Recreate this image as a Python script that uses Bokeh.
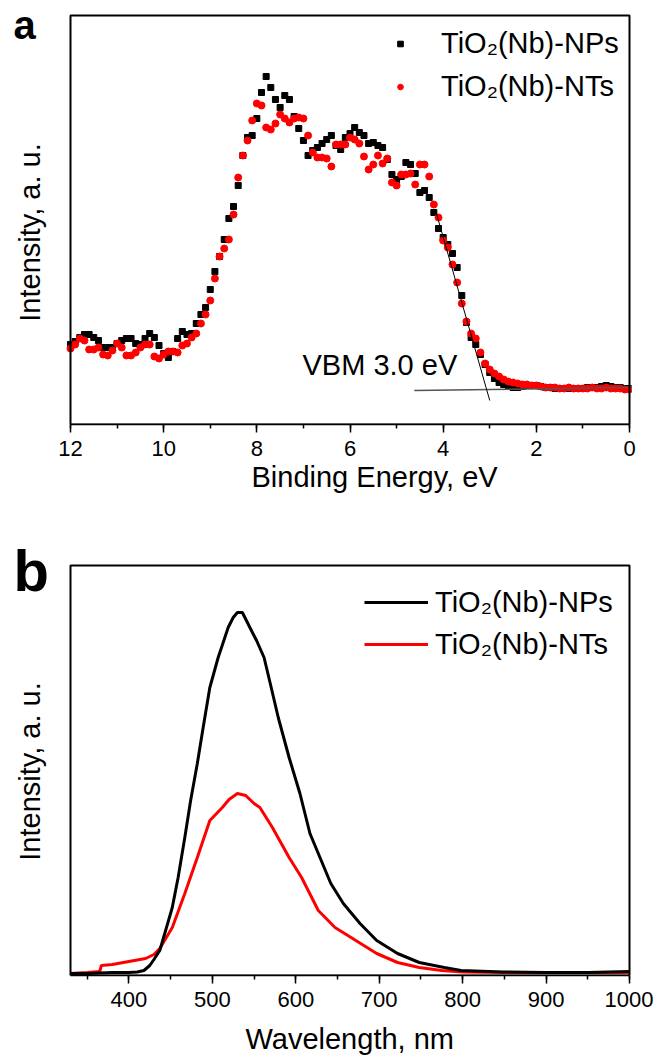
import math
from bokeh.plotting import figure
from bokeh.models import (Range1d, SingleIntervalTicker, Label, Legend, LegendItem,
                          BoxAnnotation, Title)
from bokeh.layouts import column
from bokeh.embed import file_html
from bokeh.resources import INLINE

FONT = "Liberation Sans"

# ---------------- Panel a: valence band XPS ----------------
energy = [12.0, 11.9, 11.8, 11.7, 11.6, 11.5, 11.4, 11.3, 11.2, 11.1,
          11.0, 10.9, 10.8, 10.7, 10.6, 10.5, 10.4, 10.3, 10.2, 10.1,
          10.0, 9.9, 9.8, 9.7, 9.6, 9.5, 9.4, 9.3, 9.2, 9.1,
          9.0, 8.9, 8.8, 8.7, 8.6, 8.5, 8.4, 8.3, 8.2, 8.1,
          8.0, 7.9, 7.8, 7.7, 7.6, 7.5, 7.4, 7.3, 7.2, 7.1,
          7.0, 6.9, 6.8, 6.7, 6.6, 6.5, 6.4, 6.3, 6.2, 6.1,
          6.0, 5.9, 5.8, 5.7, 5.6, 5.5, 5.4, 5.3, 5.2, 5.1,
          5.0, 4.9, 4.8, 4.7, 4.6, 4.5, 4.4, 4.3, 4.2, 4.1,
          4.0, 3.9, 3.8, 3.7, 3.6, 3.5, 3.4, 3.3, 3.2, 3.1,
          3.0, 2.9, 2.8, 2.7, 2.6, 2.5, 2.4, 2.3, 2.2, 2.1,
          2.0, 1.9, 1.8, 1.7, 1.6, 1.5, 1.4, 1.3, 1.2, 1.1,
          1.0, 0.9, 0.8, 0.7, 0.6, 0.5, 0.4, 0.3, 0.2, 0.1,
          0.0]

nps_xps = [80, 83, 87, 90, 90, 87, 84, 77, 77, 77,
           81, 84, 86, 86, 81, 80, 86, 91, 87, 79,
           71, 67, 73, 86, 93, 90, 91, 101, 110, 117,
           135, 153, 168, 185, 206, 218, 239, 269, 287, 289,
           306, 332, 348, 337, 325, 317, 329, 325, 308, 296,
           284, 269, 274, 277, 281, 285, 289, 279, 275, 287,
           291, 297, 292, 289, 281, 282, 279, 277, 265, 250,
           245, 248, 262, 260, 251, 232, 234, 227, 212, 196,
           187, 180, 171, 157, 129, 102, 87, 80, 70, 60,
           52, 46, 42, 40, 38, 37, 37, 38, 39, 39,
           39, 38, 37, 37, 36, 36, 36, 36, 36, 36,
           36, 37, 37, 37, 38, 39, 38, 37, 37, 36,
           36]

nts_xps = [76, 80, 86, 84, 75, 75, 77, 70, 69, 74,
           81, 77, 69, 69, 72, 77, 80, 80, 68, 66,
           70, 73, 73, 72, 79, 81, 87, 91, 101, 110,
           124, 146, 168, 176, 185, 210, 247, 269, 284, 304,
           321, 319, 297, 295, 301, 310, 306, 302, 306, 307,
           306, 289, 272, 267, 267, 266, 258, 280, 280, 280,
           287, 285, 281, 268, 255, 260, 269, 261, 266, 242,
           239, 250, 250, 251, 240, 260, 260, 248, 220, 207,
           184, 177, 160, 142, 121, 103, 91, 86, 72, 61,
           55, 51, 48, 45, 43, 42, 41, 40, 40, 39,
           39, 38, 37, 37, 37, 36, 36, 37, 36, 36,
           36, 36, 37, 36, 36, 37, 36, 36, 36, 35,
           35]

tangent_x = [4.15, 3.0]
tangent_y = [212, 24]
base_x = [4.62, 0.0]
base_y = [34, 37]

# ---------------- Panel b: photoluminescence ----------------
wl_nps = [330, 350, 380, 400, 410, 418, 425, 430, 437, 444, 452, 459, 467, 474,
          482, 489, 497, 507, 519, 525, 530, 536, 545, 553, 562, 570, 579, 592,
          605, 617, 627, 642, 657, 677, 697, 722, 748, 778, 798, 848, 900, 950, 1000]
pl_nps = [2, 2, 3, 3, 3.5, 5, 10, 16, 25, 45, 68, 98, 138, 175,
          212, 248, 288, 318, 348, 358, 363, 363, 348, 335, 318, 290, 258, 218,
          182, 142, 122, 92, 72, 52, 35, 22, 13, 8, 5, 3.5, 3, 3, 4]

wl_nts = [330, 350, 365, 367, 380, 400, 420, 430, 437, 452, 467, 482, 497, 512,
          520, 530, 540, 550, 557, 572, 592, 607, 627, 647, 672, 697, 722, 748,
          775, 800, 850, 900, 1000]
pl_nts = [2, 3, 4, 10, 11, 14, 17, 21, 27, 48, 82, 118, 155, 168,
          176, 182, 180, 172, 168, 148, 118, 98, 65, 48, 35, 22, 13, 8,
          5, 3.5, 3, 3, 3]

labels = ["TiO\u2082(Nb)-NPs", "TiO\u2082(Nb)-NTs"]

# ---------------- geometry (page pixels) ----------------
FRAME_L = 4          # left edge of the drawing frame
BOX_L, BOX_R = 70, 629
FRAME_R = 631
BOX_W = BOX_R - BOX_L

A_X0, A_X1 = 12.0, 0.0
B_X0, B_X1 = 330.0, 1000.0
a_ppu = BOX_W / (A_X0 - A_X1)
b_ppu = BOX_W / (B_X1 - B_X0)


def style_x(p, bounds):
    p.outline_line_color = None
    p.xgrid.visible = False
    p.ygrid.visible = False
    p.yaxis.visible = False
    p.background_fill_color = "white"
    ax = p.xaxis[0]
    ax.bounds = bounds
    ax.major_label_text_font = FONT
    ax.major_label_text_font_size = "22px"
    ax.major_label_text_color = "black"
    ax.major_label_standoff = 8
    ax.major_tick_out = 8
    ax.major_tick_in = 0
    ax.minor_tick_out = 4
    ax.minor_tick_in = 0
    ax.axis_line_width = 1.5
    ax.major_tick_line_width = 1.5
    ax.minor_tick_line_width = 1.5


def add_box(p, left, right, top):
    p.add_layout(BoxAnnotation(left=left, right=right, bottom=0, top=top,
                               fill_alpha=0, fill_color=None,
                               line_color="black", line_alpha=1.0, line_width=2))


# ---- figure a ----
a_top = 424
pa = figure(frame_width=FRAME_R - FRAME_L, frame_height=a_top, output_backend="svg",
            toolbar_location=None,
            x_range=Range1d(A_X0 + (BOX_L - FRAME_L) / a_ppu, A_X1 - (FRAME_R - BOX_R) / a_ppu),
            y_range=Range1d(0, a_top),
            min_border_left=FRAME_L, min_border_right=22, min_border_top=0, min_border_bottom=94)
pa.xaxis.ticker = SingleIntervalTicker(interval=2, num_minor_ticks=2)
style_x(pa, (A_X1, A_X0))
add_box(pa, A_X0, A_X1, 409)
pa.add_layout(Title(text="Binding Energy, eV", align="left", offset=247, standoff=0,
                    text_font=FONT, text_font_size="29px", text_font_style="normal",
                    text_color="black"), "below")

r_nps = pa.scatter(energy, nps_xps, marker="square", size=6, color="black")
r_nts = pa.scatter(energy, nts_xps, marker="circle", size=7, color="red")
pa.line(base_x, base_y, line_color="#555555", line_width=1.5)
pa.line(tangent_x, tangent_y, line_color="black", line_width=1)
pa.add_layout(Label(x=7.02, y=60, text="VBM 3.0 eV", text_font=FONT, text_font_size="29px",
                    text_color="black", text_baseline="alphabetic", text_align="left"))
pa.add_layout(Label(x=A_X0 + (BOX_L - 13) / a_ppu, y=400, text="a",
                    text_font=FONT, text_font_size="40px", text_font_style="bold",
                    text_color="black", text_baseline="alphabetic", text_align="left"))
pa.add_layout(Label(x=A_X0 + (BOX_L - 29) / a_ppu, y=a_top - 232, text="Intensity, a. u.",
                    angle=math.pi / 2, text_font=FONT, text_font_size="29px",
                    text_color="black", text_baseline="alphabetic", text_align="center"))

leg_a = Legend(items=[LegendItem(label=labels[0], renderers=[r_nps]),
                      LegendItem(label=labels[1], renderers=[r_nts])],
               location=(400 - FRAME_L - 7, 316), glyph_width=14, glyph_height=43,
               label_standoff=34, padding=0, spacing=0, margin=0, border_line_color=None,
               background_fill_alpha=0, label_text_font=FONT, label_text_font_size="29px",
               label_text_color="black")
pa.add_layout(leg_a)

# ---- figure b ----
b_top = 457
pb = figure(frame_width=FRAME_R - FRAME_L, frame_height=b_top, output_backend="svg",
            toolbar_location=None,
            x_range=Range1d(B_X0 - (BOX_L - FRAME_L) / b_ppu, B_X1 + (FRAME_R - BOX_R) / b_ppu),
            y_range=Range1d(0, b_top),
            min_border_left=FRAME_L, min_border_right=22, min_border_top=0, min_border_bottom=86)
pb.xaxis.ticker = SingleIntervalTicker(interval=100, num_minor_ticks=2)
style_x(pb, (B_X0, B_X1))
add_box(pb, B_X0, B_X1, 410)
pb.add_layout(Title(text="Wavelength, nm", align="left", offset=241, standoff=22,
                    text_font=FONT, text_font_size="29px", text_font_style="normal",
                    text_color="black"), "below")

l_nts = pb.line(wl_nts, pl_nts, line_color="red", line_width=3)
l_nps = pb.line(wl_nps, pl_nps, line_color="black", line_width=3)
pb.add_layout(Label(x=B_X0 - (BOX_L - 13) / b_ppu, y=405, text="b",
                    text_font=FONT, text_font_size="58px", text_font_style="bold",
                    text_color="black", text_baseline="alphabetic", text_align="left"))
pb.add_layout(Label(x=B_X0 - (BOX_L - 29) / b_ppu, y=975 - 771, text="Intensity, a. u.",
                    angle=math.pi / 2, text_font=FONT, text_font_size="29px",
                    text_color="black", text_baseline="alphabetic", text_align="center"))
leg_b = Legend(items=[LegendItem(label=labels[0], renderers=[l_nps]),
                      LegendItem(label=labels[1], renderers=[l_nts])],
               location=(364 - FRAME_L, 310), glyph_width=64, glyph_height=42,
               label_standoff=7, padding=0, spacing=0, margin=0, border_line_color=None,
               background_fill_alpha=0, label_text_font=FONT, label_text_font_size="29px",
               label_text_color="black")
pb.add_layout(leg_b)

layout = column(pa, pb, spacing=0)
open("out.html", "w").write(file_html(layout, INLINE))
